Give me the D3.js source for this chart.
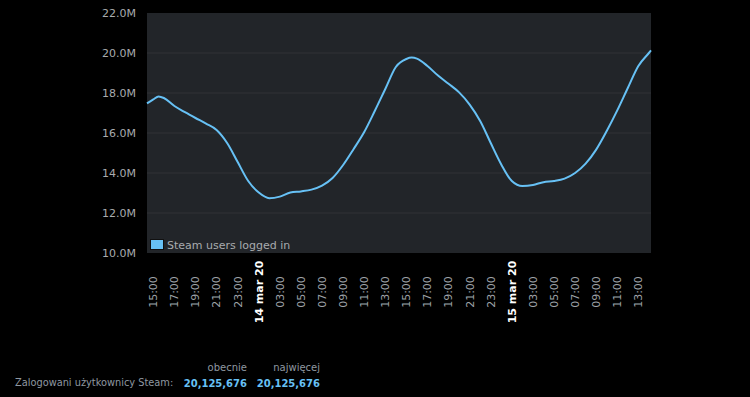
<!DOCTYPE html>
<html lang="pl">
<head>
<meta charset="utf-8" />
<title>Steam users</title>
<style>
  body { margin: 0; background: #000; }
  svg { display: block; }
</style>
</head>
<body>
<div id="chart"></div>
<script src="https://d3js.org/d3.v7.min.js"></script>
<script>
  // hours counted from 13 mar 2020 00:00, users in millions
  const hours = [14.4, 15, 15.5, 16, 17, 18, 19, 20, 21, 22, 23, 24, 25, 26, 27, 28, 29, 30, 31, 32,
                 33, 34, 35, 36, 37, 38, 39, 39.5, 40, 41, 42, 43, 44, 45, 46, 47, 48, 49, 50, 51,
                 52, 53, 54, 55, 56, 57, 58, 59, 60, 61, 62, 62.2];
  const users = [17.48, 17.68, 17.83, 17.75, 17.35, 17.04, 16.75, 16.47, 16.15, 15.5, 14.55, 13.6, 13.02, 12.74, 12.82, 13.02, 13.08, 13.17, 13.37, 13.75,
                 14.4, 15.2, 16.05, 17.1, 18.2, 19.3, 19.7, 19.77, 19.72, 19.35, 18.87, 18.46, 18.03, 17.42, 16.6, 15.5, 14.43, 13.6, 13.35, 13.4,
                 13.54, 13.6, 13.72, 14.0, 14.47, 15.17, 16.1, 17.13, 18.25, 19.35, 20.0, 20.13];
  const yTicks = [10, 12, 14, 16, 18, 20, 22];
  const seriesName = "Steam users logged in";
  const statHeads = ["obecnie", "najwięcej"];
  const statLabel = "Zalogowani użytkownicy Steam:";
  const statValues = ["20,125,676", "20,125,676"];

  const day0 = new Date(2020, 2, 13);
  const toDate = h => new Date(day0.getTime() + h * 3600e3);

  const width = 750, height = 397;
  const plot = { left: 147, right: 651, top: 13, bottom: 253 };

  const svg = d3.select("#chart").append("svg")
      .attr("width", width)
      .attr("height", height)
      .style("font-family", "'DejaVu Sans', Verdana, sans-serif");

  const x = d3.scaleTime()
      .domain([toDate(hours[0]), toDate(hours[hours.length - 1])])
      .range([plot.left, plot.right]);
  const y = d3.scaleLinear()
      .domain([10, 22])
      .range([plot.bottom, plot.top]);

  svg.append("rect")
      .attr("x", plot.left).attr("y", plot.top)
      .attr("width", plot.right - plot.left)
      .attr("height", plot.bottom - plot.top)
      .attr("fill", "#222529");

  // grid
  svg.append("g").selectAll("line")
      .data(yTicks.slice(1, -1))
      .join("line")
      .attr("x1", plot.left).attr("x2", plot.right)
      .attr("y1", d => y(d)).attr("y2", d => y(d))
      .attr("stroke", "#303337").attr("stroke-width", 1);

  // y labels
  svg.append("g").selectAll("text")
      .data(yTicks)
      .join("text")
      .attr("x", 136)
      .attr("y", d => y(d))
      .attr("dy", "0.35em")
      .attr("text-anchor", "end")
      .attr("font-size", 11)
      .attr("fill", "#a8abae")
      .text(d => d.toFixed(1) + "M");

  // x labels, every two hours starting at 15:00
  const xTicks = d3.timeHour.range(toDate(15), toDate(63), 2);
  const isDay = d => d.getHours() === 1;
  svg.append("g").selectAll("text")
      .data(xTicks.filter(d => x(d) <= plot.right))
      .join("text")
      .attr("transform", d => `translate(${x(d)},292) rotate(-90)`)
      .attr("dy", "0.35em")
      .attr("text-anchor", "middle")
      .attr("font-size", 11)
      .attr("font-weight", d => isDay(d) ? "bold" : "normal")
      .attr("fill", d => isDay(d) ? "#ffffff" : "#9da2a7")
      .text(d => isDay(d)
          ? d3.timeFormat("%-d")(d) + " mar " + d3.timeFormat("%y")(d)
          : d3.timeFormat("%H:00")(d));

  // line
  const points = hours.map((h, i) => [toDate(h), users[i]]);
  svg.append("path")
      .datum(points)
      .attr("fill", "none")
      .attr("stroke", "#67c1f5")
      .attr("stroke-width", 2)
      .attr("d", d3.line()
          .x(d => x(d[0]))
          .y(d => y(d[1]))
          .curve(d3.curveMonotoneX));

  // legend
  svg.append("rect")
      .attr("x", 150.5).attr("y", 239.5)
      .attr("width", 13).attr("height", 10)
      .attr("fill", "#67c1f5")
      .attr("stroke", "#111").attr("stroke-width", 1);
  svg.append("text")
      .attr("x", 167).attr("y", 245)
      .attr("dy", "0.35em")
      .attr("font-size", 11)
      .attr("fill", "#a8abae")
      .text(seriesName);

  // stats below the chart
  const colRight = [247, 320];
  svg.append("g").selectAll("text")
      .data(statHeads)
      .join("text")
      .attr("x", (d, i) => colRight[i])
      .attr("y", 367).attr("dy", "0.35em")
      .attr("text-anchor", "end")
      .attr("font-size", 10)
      .attr("fill", "#8f98a0")
      .text(d => d);
  svg.append("text")
      .attr("x", 15).attr("y", 383).attr("dy", "0.35em")
      .attr("font-size", 9.8)
      .attr("fill", "#8f98a0")
      .text(statLabel);
  svg.append("g").selectAll("text")
      .data(statValues)
      .join("text")
      .attr("x", (d, i) => colRight[i])
      .attr("y", 383).attr("dy", "0.35em")
      .attr("text-anchor", "end")
      .attr("font-size", 10)
      .attr("font-weight", "bold")
      .attr("fill", "#67c1f5")
      .text(d => d);
</script>
</body>
</html>
